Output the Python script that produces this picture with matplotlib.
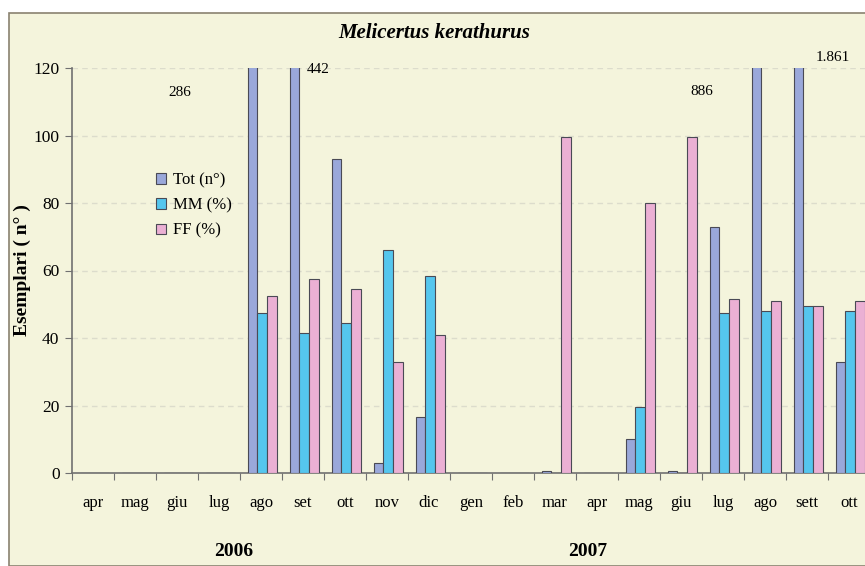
import matplotlib
matplotlib.use("Agg")
import matplotlib.pyplot as plt
import numpy as np
from matplotlib.patches import Rectangle

months = ["apr", "mag", "giu", "lug", "ago", "set", "ott", "nov", "dic",
          "gen", "feb", "mar", "apr", "mag", "giu", "lug", "ago", "sett", "ott"]
tot = [0, 0, 0, 0, 286, 442, 93, 3, 16.5,
       0, 0, 0.7, 0, 10, 0.7, 73, 886, 1861, 33]
mm = [0, 0, 0, 0, 47.5, 41.5, 44.5, 66, 58.5,
      0, 0, 0, 0, 19.5, 0, 47.5, 48, 49.5, 48]
ff = [0, 0, 0, 0, 52.5, 57.5, 54.5, 33, 41,
      0, 0, 99.5, 0, 80, 99.5, 51.5, 51, 49.5, 51]
series_names = ["Tot (n°)", "MM (%)", "FF (%)"]
years = ["2006", "2007"]
big_labels = ["286", "442", "886", "1.861"]
yticks = [0, 20, 40, 60, 80, 100, 120]

serif = ["Liberation Serif", "DejaVu Serif"]
plt.rcParams['font.family'] = serif

W, H = 865, 566
fig = plt.figure(figsize=(W / 100, H / 100), dpi=100)
fig.patch.set_facecolor("white")
bg = "#f4f4dc"
fig.patches.append(Rectangle((9 / W, 0), 1, 1 - 13 / H, transform=fig.transFigure,
                             facecolor=bg, edgecolor="#8a8270", linewidth=1.2, zorder=-10))

ax = fig.add_axes([72 / W, 1 - 473 / H, 798 / W, 405 / H])
ax.set_facecolor("none")

x = np.arange(len(months))
bw = 0.23
cols = ["#9aa8da", "#55c6ee", "#ebb0d4"]
ec = "#4a4a55"
bars = []
for k, vals in enumerate([tot, mm, ff]):
    b = ax.bar(x + (k - 1) * bw + 0.03, vals, width=bw, color=cols[k], edgecolor=ec,
               linewidth=0.8, label=series_names[k], zorder=3)
    bars.append(b)

ax.set_xlim(-0.5, len(months) - 0.5)
ax.set_ylim(0, 120)
ax.set_yticks(yticks)
ax.set_yticklabels([str(v) for v in yticks], fontsize=12.5)
for v in yticks[1:]:
    ax.axhline(v, color="#dcdccc", linewidth=1.0, linestyle=(0, (4, 3)), zorder=1)

ax.set_xticks(np.arange(len(months) + 1) - 0.5)
ax.set_xticklabels([])
ax.set_xticks(x, minor=True)
ax.set_xticklabels(months, minor=True, fontsize=12)
ax.tick_params(axis="x", which="minor", length=0, pad=16)
ax.tick_params(axis="x", which="major", length=5, direction="out", color="#707070")
ax.tick_params(axis="y", length=5, direction="out", color="#707070", pad=4)
for s in ["top", "right"]:
    ax.spines[s].set_visible(False)
for s in ["left", "bottom"]:
    ax.spines[s].set_color("#707070")
    ax.spines[s].set_linewidth(1.2)

fig.text(434 / W, 1 - 33 / H, "Melicertus kerathurus", ha="center", va="center",
         fontsize=15, fontweight="bold", fontstyle="italic")
fig.text(22 / W, 1 - 270 / H, "Esemplari ( n° )", rotation=90, ha="center", va="center",
         fontsize=14, fontweight="bold")
fig.text(234 / W, 1 - 552 / H, years[0], ha="center", va="center", fontsize=14, fontweight="bold")
fig.text(588 / W, 1 - 552 / H, years[1], ha="center", va="center", fontsize=14, fontweight="bold")

lab_pos = [(2.07, 112.6, "center"), (5.08, 119.7, "left"), (14.5, 113, "center"), (17.62, 123, "center")]
for (lx, ly, ha), t in zip(lab_pos, big_labels):
    ax.text(lx, ly, t, ha=ha, va="center", fontsize=11, clip_on=False, zorder=5)

leg = ax.legend(handles=bars, loc="upper left", bbox_to_anchor=(148 / W, 1 - 164 / H),
                bbox_transform=fig.transFigure, frameon=False, fontsize=12,
                handlelength=0.6, handleheight=0.6, handletextpad=0.4,
                labelspacing=0.55, borderpad=0)

fig.savefig("out.png", dpi=100, facecolor=fig.get_facecolor())
